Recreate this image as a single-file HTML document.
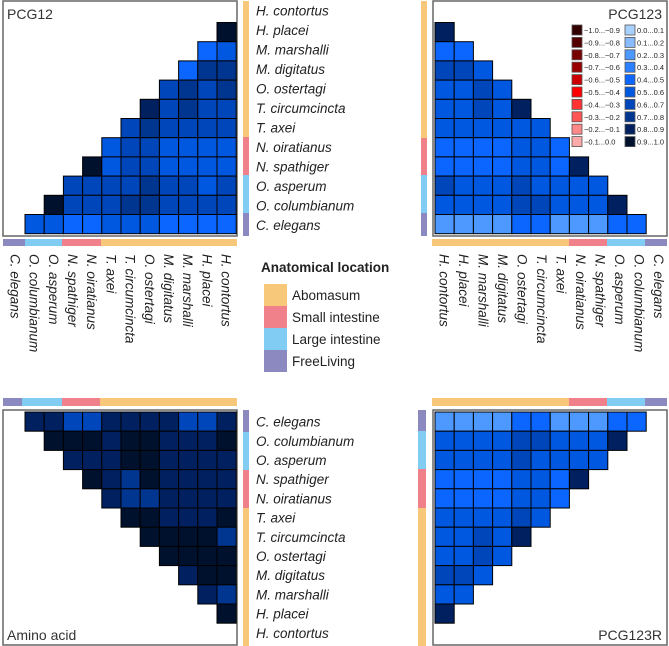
<!DOCTYPE html>
<html><head><meta charset="utf-8"><style>
body{margin:0;background:#fff}
svg{display:block;font-family:"Liberation Sans",sans-serif}
</style></head><body>
<svg id="fig" width="669" height="646" viewBox="0 0 669 646" xmlns="http://www.w3.org/2000/svg"></svg>
<script>
const speciesTop = ["H. contortus","H. placei","M. marshalli","M. digitatus","O. ostertagi","T. circumcincta","T. axei","N. oiratianus","N. spathiger","O. asperum","O. columbianum","C. elegans"];
const speciesBottom = ["C. elegans","O. columbianum","O. asperum","N. spathiger","N. oiratianus","T. axei","T. circumcincta","O. ostertagi","M. digitatus","M. marshalli","H. placei","H. contortus"];
const valsPCG12 = [
 [0.95],[0.45,0.5],[0.45,0.75,0.75],[0.65,0.7,0.6,0.7],[0.85,0.65,0.7,0.6,0.65],
 [0.65,0.7,0.6,0.6,0.6,0.6],[0.5,0.6,0.65,0.5,0.5,0.5,0.5],[0.95,0.55,0.6,0.6,0.5,0.5,0.5,0.5],
 [0.65,0.65,0.6,0.65,0.7,0.6,0.6,0.55,0.6],[0.95,0.65,0.65,0.6,0.7,0.75,0.6,0.6,0.6,0.6],
 [0.55,0.55,0.45,0.45,0.5,0.5,0.55,0.45,0.45,0.45,0.45]];
const valsPCG123 = [
 [0.85],[0.45,0.45],[0.65,0.65,0.55],[0.55,0.55,0.65,0.55],[0.55,0.55,0.65,0.55,0.8],
 [0.55,0.55,0.55,0.55,0.55,0.5],[0.45,0.45,0.45,0.45,0.55,0.55,0.45],[0.45,0.45,0.45,0.45,0.55,0.55,0.45,0.85],
 [0.6,0.55,0.55,0.55,0.65,0.55,0.55,0.55,0.55],[0.55,0.55,0.55,0.55,0.65,0.65,0.55,0.55,0.55,0.85],
 [0.25,0.25,0.25,0.25,0.45,0.45,0.25,0.25,0.25,0.45,0.45]];
const valsAmino = [
 [0.8,0.8,0.65,0.65,0.8,0.8,0.8,0.8,0.65,0.65,0.8],[0.9,0.9,0.9,0.8,0.9,0.95,0.8,0.8,0.8,0.9],
 [0.8,0.8,0.8,0.9,0.95,0.8,0.8,0.8,0.8],[0.9,0.8,0.75,0.9,0.8,0.8,0.8,0.8],[0.8,0.75,0.75,0.8,0.8,0.8,0.8],
 [0.9,0.9,0.8,0.8,0.8,0.9],[0.9,0.9,0.9,0.9,0.75],[0.9,0.9,0.9,0.9],[0.8,0.9,0.9],[0.8,0.75],[0.9]];
const valsPCG123R = [
 [0.25,0.25,0.25,0.25,0.45,0.45,0.25,0.25,0.25,0.45,0.45],[0.55,0.55,0.55,0.55,0.65,0.65,0.55,0.55,0.55,0.85],
 [0.55,0.55,0.55,0.55,0.65,0.55,0.55,0.55,0.55],[0.45,0.45,0.45,0.45,0.55,0.55,0.45,0.85],[0.45,0.45,0.45,0.45,0.55,0.55,0.45],
 [0.55,0.55,0.55,0.55,0.65,0.55],[0.55,0.55,0.65,0.55,0.8],[0.55,0.55,0.65,0.55],[0.65,0.65,0.55],[0.55,0.55],[0.85]];
const negLabels = ["−1.0...−0.9","−0.9...−0.8","−0.8...−0.7","−0.7...−0.6","−0.6...−0.5","−0.5...−0.4","−0.4...−0.3","−0.3...−0.2","−0.2...−0.1","−0.1...0.0"];
const posLabels = ["0.0...0.1","0.1...0.2","0.2...0.3","0.3...0.4","0.4...0.5","0.5...0.6","0.6...0.7","0.7...0.8","0.8...0.9","0.9...1.0"];
const locNames = ["Abomasum","Small intestine","Large intestine","FreeLiving"];

const blues=["#a8d0ff","#88bbff","#4d99ff","#2a80ff","#0a66ff","#0057e0","#0046bb","#003590","#002060","#00112e"];
const reds=["#330000","#550000","#770000","#990000","#cc0000","#ff0000","#ff3333","#ff5555","#ff8888","#ffaaaa"];
const locCols=["#f8c87a","#f0808a","#80ccf2","#8c88c0"];
function col(v){ if(v>=0) return blues[Math.min(9,Math.floor(v*10))]; return reds[Math.min(9,Math.floor((v+1)*10))]; }

const svg=document.getElementById('fig');
const NS="http://www.w3.org/2000/svg";
function el(t,a,p){const e=document.createElementNS(NS,t);for(const k in a)e.setAttribute(k,a[k]);(p||svg).appendChild(e);return e;}
const C=19.2;
function xs(x0,i){return x0+i*C;}
function ys(y0,j){return y0+j*C;}

function panel(name,bx,by,vals,align,topOff,title,tx,ty,anchor){
  const g=el('g',{});
  
  
  const box=el('rect',{x:bx,y:by,width:234,height:235,fill:'#fff',stroke:'#666','stroke-width':1.5},g);
  
  
  const cx0=bx+(align==='right'?22:2), cy0=by+topOff;
  vals.forEach((row,r)=>{
    const n=row.length;
    row.forEach((v,k)=>{
      const ci = align==='right' ? 11-n+k : k;
      const c=el('rect',{x:xs(cx0,ci),y:ys(cy0,r),width:C,height:C,fill:col(v),stroke:'#000','stroke-width':1},g);
      
      
    });
  });
  const t=el('text',{x:tx,y:ty,'font-size':14,fill:'#333','text-anchor':anchor},g);
  t.textContent=title;
  
  
}
panel('pcg12',3,1,valsPCG12,'right',21.5,'PCG12',7,19,'start');
panel('pcg123',433,1,valsPCG123,'left',21.5,'PCG123',662,19,'end');
panel('amino-acid',3,410,valsAmino,'right',2,'Amino acid',7,640,'start');
panel('pcg123r',433,410,valsPCG123R,'left',2,'PCG123R',662,640,'end');

function bar(name,segs,horiz,fixed,th){
  segs.forEach(s=>{
    const a=horiz?{x:s[0],y:fixed,width:s[1]-s[0],height:th}:{x:fixed,y:s[0],width:th,height:s[1]-s[0]};
    a.fill=locCols[s[2]];
    const r=el('rect',a);
    
    
  });
}
bar('tl-right-bar',[[1,137,0],[137,175,1],[175,213,2],[213,236,3]],false,243,6);
bar('tl-bottom-bar',[[3,25,3],[25,62,2],[62,101,1],[101,237,0]],true,239,7);
bar('tr-left-bar',[[1,138,0],[138,175,1],[175,213,2],[213,236,3]],false,421,6);
bar('tr-bottom-bar',[[432,569,0],[569,607,1],[607,645,2],[645,667,3]],true,239,7);
bar('bl-top-bar',[[3,22,3],[22,62,2],[62,100,1],[100,237,0]],true,398,8);
bar('bl-right-bar',[[410,432,3],[432,470,2],[470,508,1],[508,646,0]],false,243,6);
bar('br-top-bar',[[432,569,0],[569,607,1],[607,645,2],[645,667,3]],true,398,8);
bar('br-left-bar',[[410,431,3],[431,469,2],[469,508,1],[508,646,0]],false,418,8);

function label(txt,x,y,rot,name){
  const t=el('text',{x:x,y:y,'font-size':13.5,'font-style':'italic',fill:'#222','dominant-baseline':'middle'});
  if(rot) t.setAttribute('transform','rotate(90 '+x+' '+y+')');
  t.textContent=txt;
  
  
}
speciesTop.forEach((s,i)=>label(s,256,12+i*19.5,false,'row-label-top'));
speciesBottom.forEach((s,i)=>label(s,256,423+i*19.2,false,'row-label-bottom'));
speciesBottom.forEach((s,i)=>label(s,14+i*19.2,254,true,'col-label-left'));
speciesTop.forEach((s,i)=>label(s,443+i*19.5,254,true,'col-label-right'));

const lg=el('g',{});


negLabels.forEach((l,i)=>{
  const y=25+i*12.4;
  const r=el('rect',{x:572,y:y,width:10,height:10,fill:reds[i],stroke:'#555','stroke-width':0.8},lg);
  
  
  const t=el('text',{x:584,y:y+8,'font-size':7.5,fill:'#222'},lg);t.textContent=l;
  
  
});
posLabels.forEach((l,i)=>{
  const y=25+i*12.4;
  const r=el('rect',{x:625,y:y,width:10,height:10,fill:blues[i],stroke:'#555','stroke-width':0.8},lg);
  
  
  const t=el('text',{x:637,y:y+8,'font-size':7.5,fill:'#222'},lg);t.textContent=l;
  
  
});

const at=el('text',{x:261,y:272,'font-size':13.5,'font-weight':'bold',fill:'#222'});
at.textContent='Anatomical location';


locNames.forEach((n,i)=>{
  const y=284+i*22;
  const r=el('rect',{x:264,y:y,width:23,height:22,fill:locCols[i]});
  
  
  const t=el('text',{x:292,y:y+16,'font-size':13.5,fill:'#222'});
  t.textContent=n;
  
  
});
</script>
</body></html>
